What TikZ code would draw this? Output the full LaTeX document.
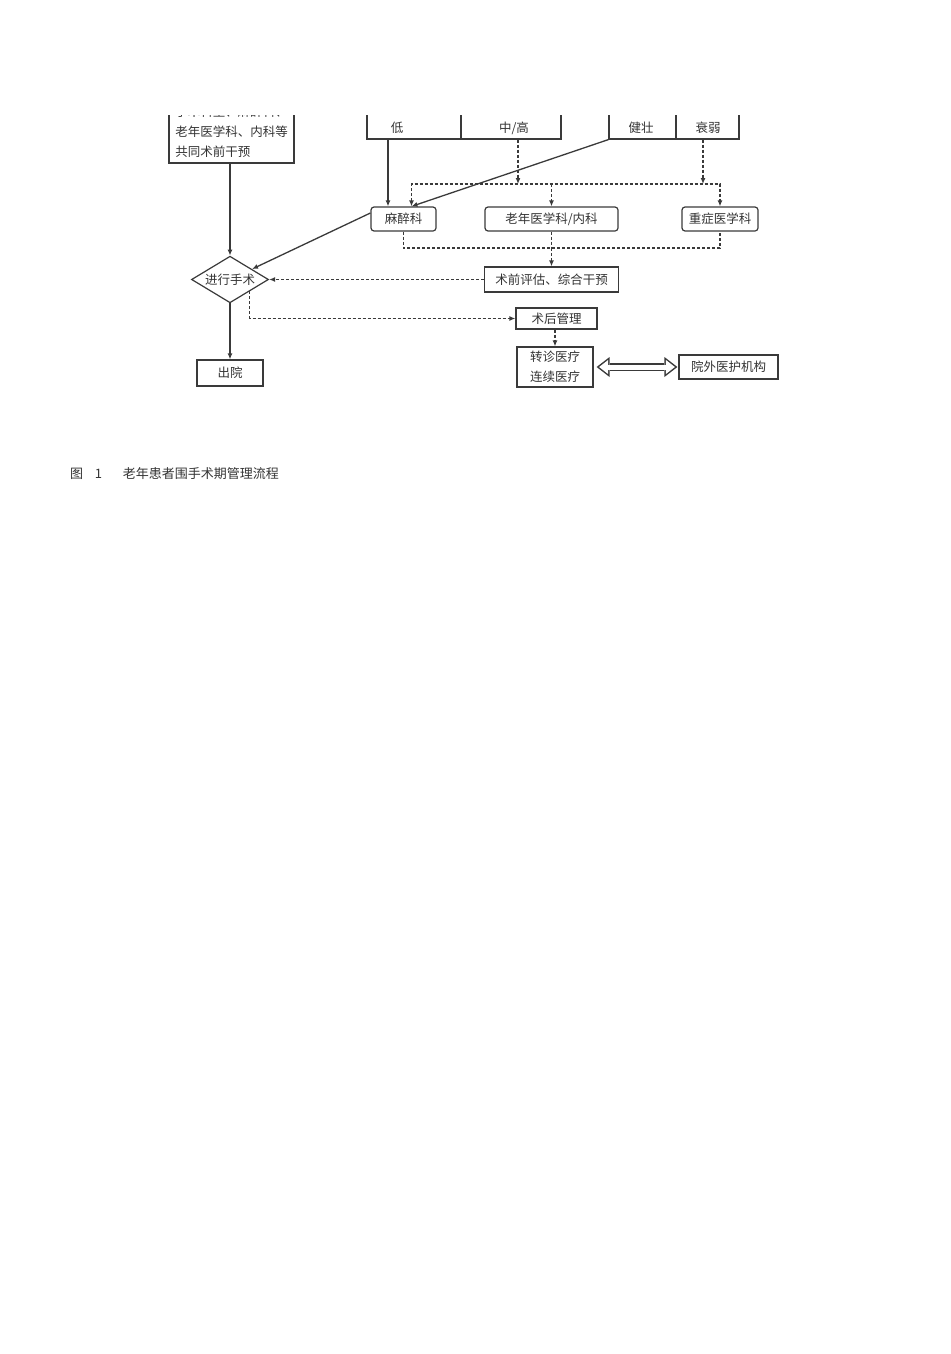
\documentclass[tikz,border=0pt]{standalone}
\usepackage{fontspec}
\newfontfamily\cjk{Noto Sans CJK SC}
\usetikzlibrary{arrows.meta,shapes.geometric}
\definecolor{linegray}{HTML}{3A3A3A}
\definecolor{textgray}{HTML}{333333}

\begin{document}
\begin{tikzpicture}[
    x=1pt, y=-1pt,
    >={Latex[length=6pt,width=5pt]},
    box/.style={
        draw=linegray,
        line width=1.2pt,
        align=center,
        inner sep=0pt,
        text=textgray,
        font=\cjk\fontsize{12.5}{20}\selectfont
    },
    dept/.style={box, rounded corners=3pt, minimum height=24pt},
    cell/.style={draw=linegray, line width=1.2pt, minimum height=60pt, inner sep=0pt},
    txt/.style={text=textgray, inner sep=0pt, font=\cjk\fontsize{12.5}{20}\selectfont},
    line/.style={draw=linegray, line width=1.3pt, ->},
    dashline/.style={line, dash pattern=on 3pt off 2pt},
    dblout/.style={draw=linegray, line width=8pt,
        {Triangle[length=13pt,width=20pt,line width=0pt]}-{Triangle[length=13pt,width=20pt,line width=0pt]}},
    dblin/.style={draw=white, line width=5pt, shorten <=2.5pt, shorten >=2.5pt,
        {Triangle[length=9pt,width=14pt,line width=0pt]}-{Triangle[length=9pt,width=14pt,line width=0pt]}}
]
\useasboundingbox (0,0) rectangle (950,1354);

\begin{scope}
\clip (0,115) rectangle (950,1354);

\node[box, minimum width=125pt, minimum height=62pt, align=left] (jointbox) at (231.5,132)
    {手术科室、麻醉科、\\老年医学科、内科等\\共同术前干预};

\node[cell, minimum width=94pt] (low) at (414,109) {};
\node[cell, minimum width=100pt] (midhigh) at (511,109) {};
\node[cell, minimum width=67pt] (robust) at (642.5,109) {};
\node[cell, minimum width=63pt] (frail) at (707.5,109) {};
\node[txt] (lowtxt) at (397,128) {低};
\node[txt] (midtxt) at (514,128) {中/高};
\node[txt] (robusttxt) at (641,128) {健壮};
\node[txt] (frailtxt) at (708,128) {衰弱};

\node[dept, minimum width=65pt] (anes) at (403.5,219) {麻醉科};
\node[dept, minimum width=133pt] (geri) at (551.5,219) {老年医学科/内科};
\node[dept, minimum width=76pt] (icu) at (720,219) {重症医学科};

\node[box, minimum width=134pt, minimum height=25pt] (preop) at (551.5,279.5) {术前评估、综合干预};
\node[box, diamond, aspect=1.65, inner sep=1.5pt] (surg) at (230,279.5) {进行手术};

\node[box, minimum width=81pt, minimum height=21pt] (postop) at (556.5,318.5) {术后管理};
\node[box, minimum width=76pt, minimum height=40pt] (transfer) at (555,367) {转诊医疗\\连续医疗};
\node[box, minimum width=99pt, minimum height=24pt] (outside) at (728.5,367) {院外医护机构};
\node[box, minimum width=66pt, minimum height=26pt] (discharge) at (230,373) {出院};

\coordinate (busT) at (720,184);
\coordinate (busB) at (551.5,248);

\draw[line] ([xshift=-26pt]low.south) -- ([xshift=-15.5pt]anes.north);
\draw[line] (robust.south west) -- ([xshift=8pt]anes.north);
\draw[dashline] ([xshift=7pt]midhigh.south) -- ([xshift=7pt]midhigh.south |- busT);
\draw[dashline] ([xshift=-4.5pt]frail.south) -- ([xshift=-4.5pt]frail.south |- busT);
\draw[dashline, <->] ([xshift=8pt]anes.north) -- ([xshift=8pt]anes.north |- busT) -- (busT) -- (icu.north);
\draw[dashline] (geri.north |- busT) -- (geri.north);

\draw[dashline, -] (anes.south) |- (busB) -| (icu.south);
\draw[dashline, -] (geri.south) -- (busB);
\draw[dashline] (busB) -- (preop.north);
\draw[dashline] (preop) -- (surg);

\draw[line] (jointbox.south -| surg.north) -- (surg.north);
\draw[line] ([yshift=6pt]anes.west) -- (surg);
\draw[line] (surg.south) -- (discharge.north);
\draw[dashline] (surg.south east) |- (postop.west);
\draw[dashline] (postop.south -| transfer.north) -- (transfer.north);
\draw[dblout] ([xshift=3pt]transfer.east) -- ([xshift=-1pt]outside.west);
\draw[dblin] ([xshift=3pt]transfer.east) -- ([xshift=-1pt]outside.west);
\end{scope}

\node[text=textgray, inner sep=0pt, anchor=west, font=\cjk\fontsize{13}{15}\selectfont] (caption) at (70,474)
    {图\hspace{0.9em}1\hspace{1.6em}老年患者围手术期管理流程};

\end{tikzpicture}
\end{document}
